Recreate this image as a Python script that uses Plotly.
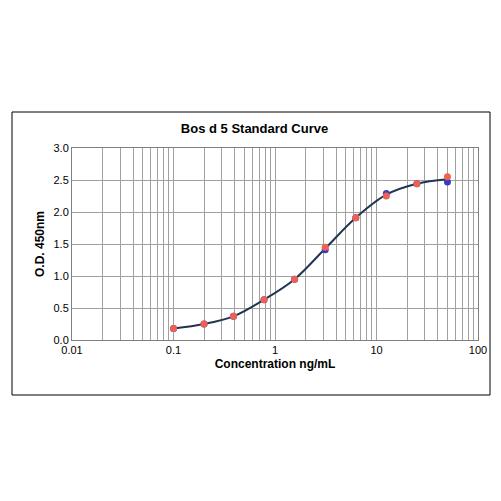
import plotly.graph_objects as go

conc = [0.1, 0.2, 0.39, 0.78, 1.56, 3.125, 6.25, 12.5, 25, 50]
od_rep1 = [0.18, 0.25, 0.37, 0.63, 0.95, 1.41, 1.91, 2.29, 2.44, 2.47]
od_rep2 = [0.18, 0.25, 0.37, 0.63, 0.95, 1.45, 1.91, 2.25, 2.44, 2.55]
od_mean = [(a + b) / 2 for a, b in zip(od_rep1, od_rep2)]

fig = go.Figure()
fig.add_trace(go.Scatter(x=conc, y=od_mean, mode="lines", line=dict(color="#1f3550", width=2, shape="spline"), hoverinfo="skip"))
fig.add_trace(go.Scatter(x=conc, y=od_rep1, mode="markers", marker=dict(color="#3a3ac0", size=7)))
fig.add_trace(go.Scatter(x=conc, y=od_rep2, mode="markers", marker=dict(color="#f06050", size=7)))

fig.update_layout(
    width=493, height=493, showlegend=False,
    paper_bgcolor="white", plot_bgcolor="white",
    margin=dict(l=64, r=23, t=140, b=161),
    title=dict(text="<b>Bos d 5 Standard Curve</b>", x=0.5, xanchor="center", y=1 - 120/493, yanchor="middle",
               font=dict(family="Arial", size=13, color="black")),
    font=dict(family="Arial", size=11, color="black"),
    shapes=[dict(type="rect", xref="paper", yref="paper", x0=-60/406, x1=1 + 12/406, y0=-55/192, y1=1 + 36/192,
                 line=dict(color="black", width=1))],
)
fig.update_xaxes(type="log", range=[-2, 2], tickvals=[0.01, 0.1, 1, 10, 100], ticktext=["0.01", "0.1", "1", "10", "100"],
                 showgrid=True, gridcolor="#a0a0a0", gridwidth=1, minor=dict(showgrid=True, gridcolor="#a0a0a0", dtick="D1"),
                 showline=True, linecolor="#808080", mirror=True, ticks="", zeroline=False,
                 title=dict(text="<b>Concentration ng/mL</b>", font=dict(size=12), standoff=4))
fig.update_yaxes(range=[0, 3], dtick=0.5, tickformat=".1f", showgrid=True, gridcolor="#a0a0a0",
                 showline=True, linecolor="#808080", mirror=True, zeroline=False,
                 title=dict(text="<b>O.D. 450nm</b>", font=dict(size=12), standoff=6))
fig.write_html("out.html")
